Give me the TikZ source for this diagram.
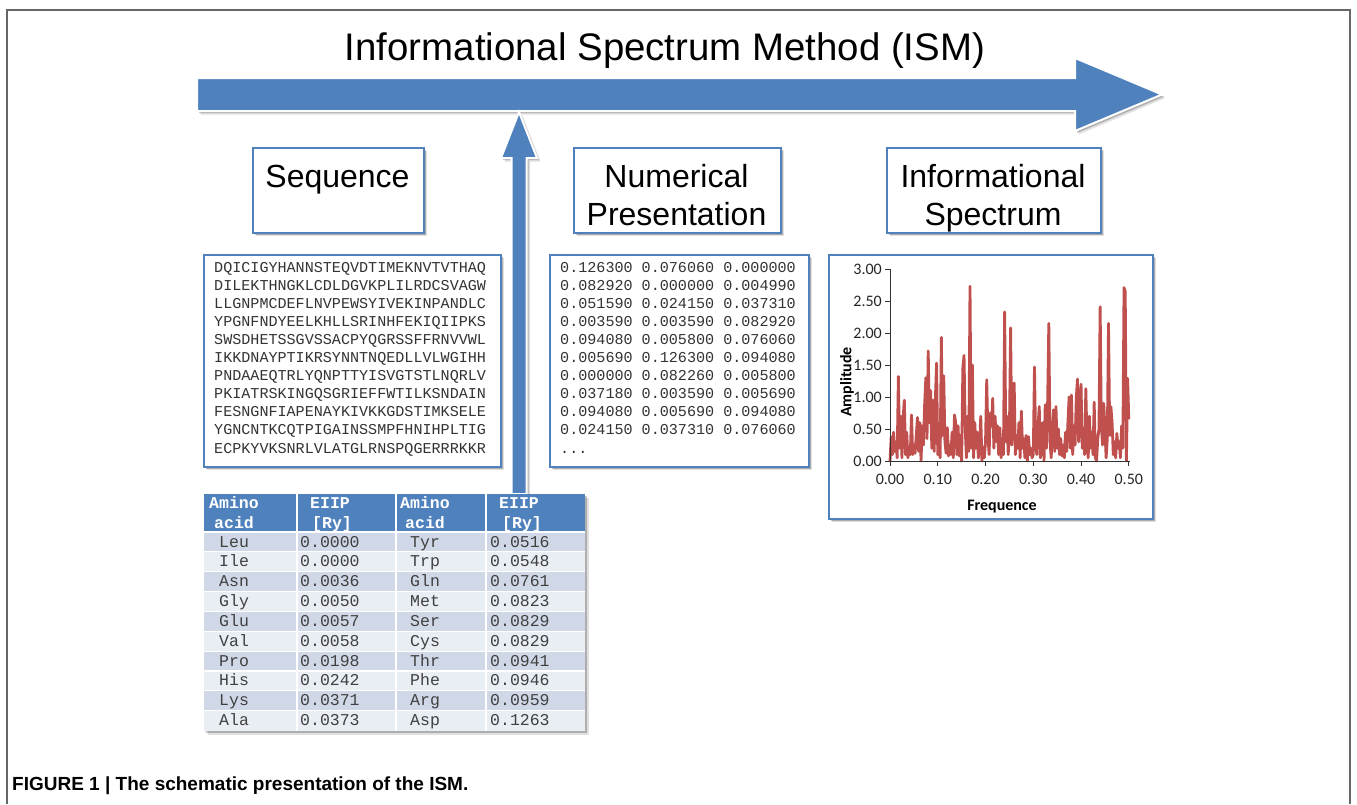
\documentclass[tikz,border=0pt]{standalone}
\usepackage{fontspec}
\setmainfont{Liberation Sans}
\newfontfamily\monof{Liberation Mono}
\newfontfamily\chartf{Carlito}
\usetikzlibrary{shadows}
\definecolor{ismblue}{HTML}{4F81BD}
\definecolor{ismred}{HTML}{C0504D}
\definecolor{rowdark}{HTML}{D0D8E8}
\definecolor{rowlight}{HTML}{E9EDF4}
\definecolor{framegray}{HTML}{666666}
\begin{document}
\begin{tikzpicture}[x=1pt,y=-1pt,
  shadowed/.style={drop shadow={shadow xshift=3.5pt,shadow yshift=-3.5pt,fill=black,opacity=0.12},
                   drop shadow={shadow xshift=2pt,shadow yshift=-2pt,fill=black,opacity=0.22}},
  bluebox/.style={shadowed,draw=ismblue,line width=1.8pt,fill=white,inner sep=0pt,anchor=north west},
  blockarrow/.style={shadowed,draw=white,line width=2pt,fill=ismblue,line join=miter},
  titletext/.style={font=\fontsize{32}{38}\selectfont,anchor=base,inner sep=0pt},
  monotext/.style={font=\monof\fontsize{15.1}{18}\selectfont,inner sep=0pt,anchor=base west,text=black!80},
  tabtext/.style={font=\monof\fontsize{16.5}{19}\selectfont,inner sep=0pt,anchor=base west,text=black!75},
  tabhead/.style={font=\monof\bfseries\fontsize{16.5}{19}\selectfont,inner sep=0pt,anchor=base west,text=white},
  charttext/.style={font=\chartf\fontsize{16}{19}\selectfont,inner sep=0pt,text=black!85},
  chartlabel/.style={font=\chartf\bfseries\fontsize{16}{19}\selectfont,inner sep=0pt},
]
\useasboundingbox (0,0) rectangle (1357,804);
\fill[white] (0,0) rectangle (1357,804);
\draw[framegray,line width=1.2pt] (7,804) -- (7,10) -- (1350,10) -- (1350,804);

% title
\node[font=\fontsize{38.4}{46}\selectfont,anchor=base,inner sep=0pt] (title) at (665,60) {Informational Spectrum Method (ISM)};

% big horizontal arrow
\path[blockarrow] (197,78) -- (1075,78) -- (1075,58) -- (1162,94.5) -- (1075,131) -- (1075,111) -- (197,111) -- cycle;

% vertical arrow
\coordinate (vtip) at (519,112);
\coordinate (vbase) at (519,494);
\path[blockarrow] (511.5,494) -- (511.5,158) -- (501,158) -- (vtip) -- (537,158) -- (526.5,158) -- (526.5,494) -- cycle;

% title boxes
\node[bluebox,minimum width=171,minimum height=85] (seqtitle) at (252,147) {};
\node[titletext] (seqtitletext) at (337.5,187) {Sequence};
\node[bluebox,minimum width=207,minimum height=85] (numtitle) at (573,147) {};
\node[titletext] (numtitletext1) at (676.5,187) {Numerical};
\node[titletext] (numtitletext2) at (676.5,225) {Presentation};
\node[bluebox,minimum width=214,minimum height=85] (spectitle) at (886,147) {};
\node[titletext] (spectitletext1) at (993,187) {Informational};
\node[titletext] (spectitletext2) at (993,225) {Spectrum};

% sequence box
\node[bluebox,minimum width=297,minimum height=212] (seqbox) at (203,254) {};
\foreach \s [count=\i from 0] in {DQICIGYHANNSTEQVDTIMEKNVTVTHAQ,DILEKTHNGKLCDLDGVKPLILRDCSVAGW,LLGNPMCDEFLNVPEWSYIVEKINPANDLC,YPGNFNDYEELKHLLSRINHFEKIQIIPKS,SWSDHETSSGVSSACPYQGRSSFFRNVVWL,IKKDNAYPTIKRSYNNTNQEDLLVLWGIHH,PNDAAEQTRLYQNPTTYISVGTSTLNQRLV,PKIATRSKINGQSGRIEFFWTILKSNDAIN,FESNGNFIAPENAYKIVKKGDSTIMKSELE,YGNCNTKCQTPIGAINSSMPFHNIHPLTIG,ECPKYVKSNRLVLATGLRNSPQGERRRKKR}
  \node[monotext] (seq\i) at (214,{272+\i*18.1}) {\s};

% numerical box
\node[bluebox,minimum width=259,minimum height=212] (numbox) at (549,254) {};
\foreach \s [count=\i from 0] in {0.126300 0.076060 0.000000,0.082920 0.000000 0.004990,0.051590 0.024150 0.037310,0.003590 0.003590 0.082920,0.094080 0.005800 0.076060,0.005690 0.126300 0.094080,0.000000 0.082260 0.005800,0.037180 0.003590 0.005690,0.094080 0.005690 0.094080,0.024150 0.037310 0.076060}
  \node[monotext] (num\i) at (560,{272+\i*18.1}) {\s};
\node[monotext] (numdots) at (560,453) {...};

% spectrum box
\node[bluebox,minimum width=324,minimum height=264] (specbox) at (828,254) {};
\begin{scope}[shift={(890,461)},x=1.194pt,y=64pt]
\draw[ismred,line width=2.8pt,line join=round] (0,0) \foreach \v [count=\i] in {0.38,0.10,0.45,0.15,0.30,0.05,1.32,0.20,0.70,0.05,0.68,0.95,0.10,0.45,0.05,0.20,0.10,0.72,0.10,0.25,0.12,0.40,0.68,0.15,0.60,0.0,0.55,0.25,0.88,1.30,0.35,1.72,0.60,1.10,0.20,0.95,0.15,0.98,1.53,0.10,0.55,0.05,1.93,0.40,1.33,0.30,0.12,0.52,0.08,0.25,0.10,0.45,0.05,0.72,0.60,0.10,0.55,0.08,0.40,0.0,1.45,1.65,0.50,0.05,0.70,0.15,2.73,0.20,1.50,0.05,0.60,0.20,0.45,0.05,0.25,0.70,0.0,0.22,0.05,0.30,1.27,0.40,0.10,0.75,0.55,0.98,0.20,0.70,0.30,0.55,0.10,0.52,0.05,0.35,0.10,2.33,0.30,0.70,0.10,0.45,2.08,0.25,0.55,1.22,0.10,0.40,0.20,0.60,0.05,0.78,0.20,0.35,0.05,0.40,0.0,0.38,0.10,0.20,0.05,0.10,1.47,0.25,0.10,0.55,0.85,0.05,0.30,0.60,0.0,0.88,0.20,0.90,2.15,0.30,0.05,0.50,0.80,0.15,0.85,0.20,0.50,0.10,0.35,0.08,0.25,0.05,0.45,0.15,0.60,1.00,0.20,1.03,0.10,0.55,0.25,0.98,1.28,0.30,0.70,1.20,0.20,0.50,0.10,1.13,0.30,0.05,0.70,0.20,0.45,0.10,0.92,0.05,0.0,0.35,0.50,2.41,0.55,0.25,0.90,0.50,0.05,0.35,2.15,0.40,0.85,0.60,0.10,0.30,0.05,0.43,0.20,0.30,0.05,0.55,0.20,2.71,2.65,0.0,1.29,0.65} { -- (\i,\v) };
\end{scope}
\draw[black!80,line width=1pt] (890,269) -- (890,461) -- (1130,461);
\foreach \k/\t in {0/0.00,1/0.50,2/1.00,3/1.50,4/2.00,5/2.50,6/3.00} {
  \draw[black!80,line width=1pt] (885,{461-\k*32}) -- (890,{461-\k*32});
  \node[charttext,anchor=east] (yt\k) at (882,{461-\k*32}) {\t};
}
\foreach \k/\t in {0/0.00,1/0.10,2/0.20,3/0.30,4/0.40,5/0.50} {
  \draw[black!80,line width=1pt] ({890+\k*47.76},461) -- ({890+\k*47.76},466);
  \node[charttext,anchor=base] (xt\k) at ({890+\k*47.76},484) {\t};
}
\node[chartlabel,rotate=90] (ylab) at (847,382) {Amplitude};
\node[chartlabel,anchor=base] (xlab) at (1002,510) {Frequence};

% table
\node[shadowed,fill=rowlight,minimum width=381,minimum height=237,anchor=north west,inner sep=0pt] (tbl) at (204,494) {};
\fill[ismblue] (204,494) rectangle (585,532);
\foreach \a/\b/\c/\d [count=\k] in {Leu/0.0000/Tyr/0.0516,Ile/0.0000/Trp/0.0548,Asn/0.0036/Gln/0.0761,Gly/0.0050/Met/0.0823,Glu/0.0057/Ser/0.0829,Val/0.0058/Cys/0.0829,Pro/0.0198/Thr/0.0941,His/0.0242/Phe/0.0946,Lys/0.0371/Arg/0.0959,Ala/0.0373/Asp/0.1263} {
  \pgfmathsetmacro{\rtop}{532+(\k-1)*19.85}
  \pgfmathsetmacro{\rbot}{\rtop+19.85}
  \pgfmathsetmacro{\rbase}{\rtop+15}
  \pgfmathtruncatemacro{\odd}{mod(\k,2)}
  \ifnum\odd=1 \fill[rowdark] (204,\rtop) rectangle (585,\rbot); \fi
  \draw[white,line width=1.2pt] (204,\rtop) -- (585,\rtop);
  \node[tabtext] (ta\k) at (219,\rbase) {\a};
  \node[tabtext] (tb\k) at (300,\rbase) {\b};
  \node[tabtext] (tc\k) at (410,\rbase) {\c};
  \node[tabtext] (td\k) at (490,\rbase) {\d};
}
\draw[white,line width=2.5pt] (204,532) -- (585,532);
\foreach \x in {297,396,486} \draw[white,line width=2pt] (\x,494) -- (\x,731);
\node[tabhead] (h1a) at (209,508) {Amino};
\node[tabhead] (h1b) at (214,528) {acid};
\node[tabhead] (h2a) at (310,508) {EIIP};
\node[tabhead] (h2b) at (312,528) {[Ry]};
\node[tabhead] (h3a) at (400,508) {Amino};
\node[tabhead] (h3b) at (405,528) {acid};
\node[tabhead] (h4a) at (499,508) {EIIP};
\node[tabhead] (h4b) at (502,528) {[Ry]};

% caption
\node[font=\bfseries\fontsize{19}{22}\selectfont,anchor=base west,inner sep=0pt] (caption) at (12,790) {FIGURE 1 | The schematic presentation of the ISM.};
\end{tikzpicture}
\end{document}
